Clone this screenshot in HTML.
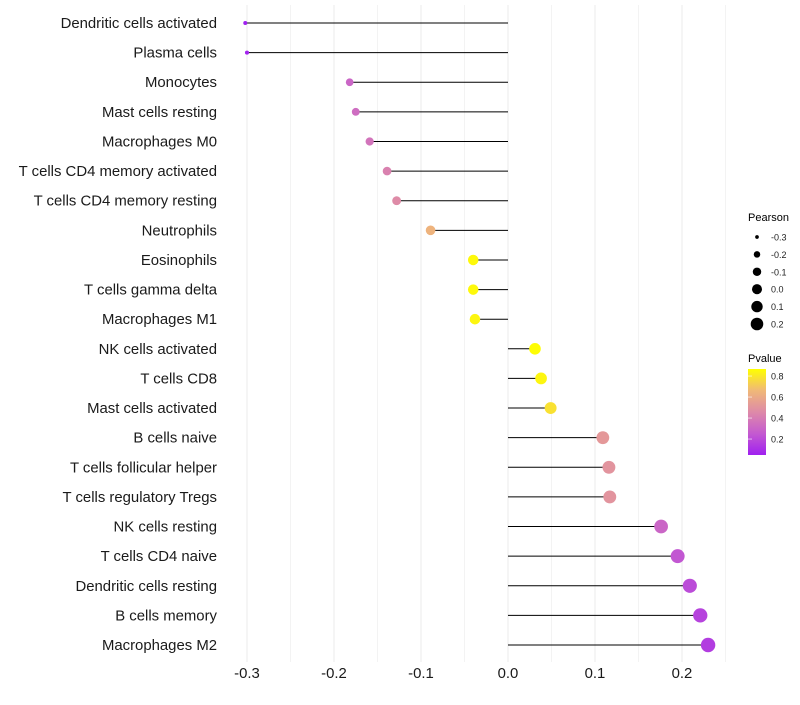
<!DOCTYPE html>
<html><head><meta charset="utf-8"><style>
body{margin:0;background:#fff;font-family:"Liberation Sans",sans-serif;}
</style></head><body>
<svg id="chart" width="800" height="700" xmlns="http://www.w3.org/2000/svg" font-family="Liberation Sans, sans-serif">
<defs><linearGradient id="pg" x1="0" y1="1" x2="0" y2="0">
<stop offset="0" stop-color="#a020f0"/><stop offset="0.25" stop-color="#c45ad0"/><stop offset="0.5" stop-color="#de8aa8"/><stop offset="0.75" stop-color="#f0b878"/><stop offset="1" stop-color="#ffff00"/></linearGradient></defs>
<g id="grid"></g><g id="marks"></g><g id="ylab"></g><g id="xlab"></g><g id="legend"></g>
</svg>
<script>
const categories=["Dendritic cells activated","Plasma cells","Monocytes","Mast cells resting","Macrophages M0","T cells CD4 memory activated","T cells CD4 memory resting","Neutrophils","Eosinophils","T cells gamma delta","Macrophages M1","NK cells activated","T cells CD8","Mast cells activated","B cells naive","T cells follicular helper","T cells regulatory  Tregs ","NK cells resting","T cells CD4 naive","Dendritic cells resting","B cells memory","Macrophages M2"];
const pearson=[-0.302,-0.300,-0.182,-0.175,-0.159,-0.139,-0.128,-0.089,-0.040,-0.040,-0.038,0.031,0.038,0.049,0.109,0.116,0.117,0.176,0.195,0.209,0.221,0.230];
const pvalue=[0.05,0.06,0.30,0.33,0.36,0.42,0.46,0.64,0.85,0.85,0.84,0.86,0.84,0.78,0.52,0.50,0.50,0.30,0.24,0.20,0.17,0.15];
const xTicks=[-0.3,-0.2,-0.1,0.0,0.1,0.2];
const sizeTicks=[-0.3,-0.2,-0.1,0.0,0.1,0.2];
const colorTicks=[0.8,0.6,0.4,0.2];
const NS="http://www.w3.org/2000/svg";
const X=v=>508+v*870;
const Y=i=>23+i*(622/21);
const R=v=>Math.sqrt(4+(v+0.302)/(0.532)*(51.8-4));
const stops=[[0.048,[160,32,240]],[0.25,[196,90,208]],[0.457,[222,138,168]],[0.66,[240,184,120]],[0.867,[255,255,0]]];
function col(p){if(p<=stops[0][0])return "rgb("+stops[0][1]+")";for(let k=1;k<stops.length;k++){if(p<=stops[k][0]){const a=stops[k-1],b=stops[k],t=(p-a[0])/(b[0]-a[0]);return "rgb("+a[1].map((c,j)=>Math.round(c+(b[1][j]-c)*t)).join(",")+")";}}return "rgb(255,255,0)";}
function mk(t,at,parent){const e=document.createElementNS(NS,t);for(const k in at)e.setAttribute(k,at[k]);document.getElementById(parent).appendChild(e);return e;}
for(let v=-0.3;v<=0.26;v+=0.05){const g=mk("line",{x1:X(v),x2:X(v),y1:5,y2:662,stroke:"#ebebeb","stroke-width":Math.abs(Math.round(v*20))%2===0?1:0.6},"grid");

}
categories.forEach((c,i)=>{
const ln=mk("line",{x1:X(0),x2:X(pearson[i]),y1:Y(i),y2:Y(i),stroke:"#000","stroke-width":1},"marks");


const pt=mk("circle",{cx:X(pearson[i]),cy:Y(i),r:R(pearson[i]),fill:col(pvalue[i])},"marks");


const tx=mk("text",{x:217,y:Y(i)+5,"text-anchor":"end","font-size":14.9,fill:"#1a1a1a"},"ylab");tx.textContent=c;


});
xTicks.forEach(v=>{const t=mk("text",{x:X(v),y:678,"text-anchor":"middle","font-size":14.9,fill:"#1a1a1a"},"xlab");t.textContent=v.toFixed(1);

});
const lt=mk("text",{x:748,y:221,"font-size":11,fill:"#000"},"legend");lt.textContent="Pearson";


sizeTicks.forEach((v,k)=>{const y=237+k*17.4;const c=mk("circle",{cx:757,cy:y,r:R(v)*0.9,fill:"#000"},"legend");


const t=mk("text",{x:771,y:y+3.5,"font-size":9,fill:"#222"},"legend");t.textContent=v.toFixed(1);

});
const ct=mk("text",{x:748,y:362,"font-size":11,fill:"#000"},"legend");ct.textContent="Pvalue";


const bar=mk("rect",{x:748,y:369,width:18,height:86,fill:"url(#pg)"},"legend");


const CY=p=>455-(p-0.048)/(0.819)*86;
colorTicks.forEach(p=>{const t=mk("text",{x:771,y:CY(p)+3.5,"font-size":9,fill:"#222"},"legend");t.textContent=p.toFixed(1);


const tk=mk("line",{x1:748,x2:752,y1:CY(p),y2:CY(p),stroke:"#fff","stroke-width":0.6},"legend");

});
</script>
</body></html>
